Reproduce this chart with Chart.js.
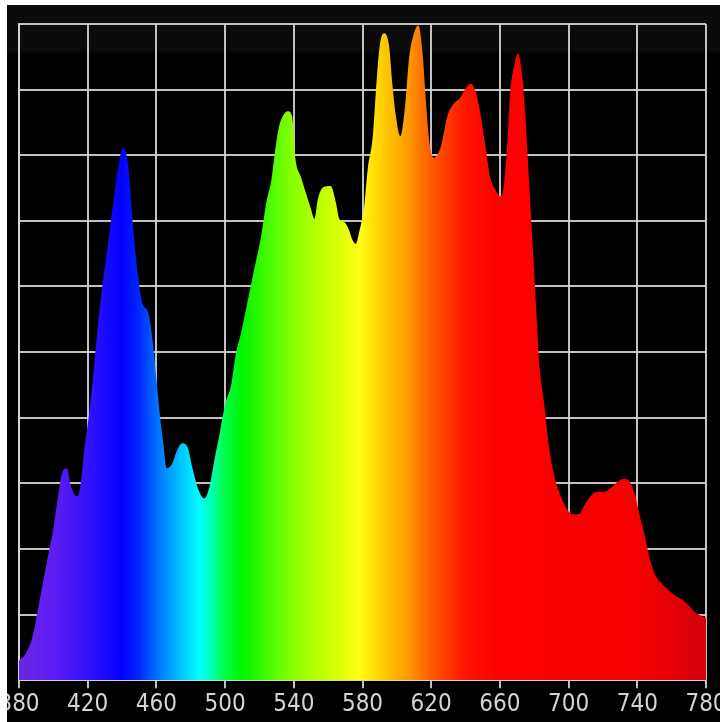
<!DOCTYPE html>
<html>
<head>
<meta charset="utf-8">
<script src="https://cdn.jsdelivr.net/npm/chart.js"></script>
<style>
  html, body { margin: 0; padding: 0; background: #fff; }
  #wrap {
    position: absolute; left: 7px; top: 5px; width: 713px; height: 717px;
    background: linear-gradient(#0b0b0b 0px, #0b0b0b 44px, #000 50px);
  }
</style>
</head>
<body>
<div id="wrap"><canvas id="spectrum"></canvas></div>
<script>
  'use strict';

  // Spectrum samples (nm, relative intensity 0..10)
  const wavelengths = [
    380, 384, 388, 392, 396, 400, 403, 405, 408, 410, 414, 416, 418, 421, 424, 427, 431, 435, 438, 440.5,
    443.5, 446, 449, 452, 455, 458, 460, 462, 464, 466, 469, 472, 475, 478, 481, 484.5, 488, 491, 494, 497,
    500, 503.5, 506.5, 509, 513, 517, 521, 524, 527, 529, 531, 533.5, 536.5, 539, 541, 544, 547, 550, 552, 554,
    557, 561.5, 564.5, 566.5, 569.5, 572, 574, 576, 578, 581, 583, 586, 588, 590, 592.5, 595.5, 597.5, 599.5, 602, 605,
    607, 610, 612.5, 615, 617, 619, 621.5, 625.5, 629.5, 633, 637, 640, 643, 646, 649, 651.5, 654.5, 657.5, 660.5, 662.5,
    664.5, 666, 668.5, 670.5, 673, 675, 677, 679, 681, 683, 686, 688, 690.5, 694.5, 698.5, 702, 706, 709, 713, 717,
    721, 725, 729, 732.5, 735.5, 738.5, 741.5, 744.5, 747, 750, 754, 758, 762, 766, 770, 773.5, 777.5, 780
  ];
  const intensity = [
    0.30, 0.41, 0.68, 1.22, 1.77, 2.31, 2.85, 3.15, 3.23, 2.98, 2.80, 3.00, 3.50, 4.10, 4.86, 5.68, 6.49, 7.30, 7.85, 8.12,
    7.85, 7.03, 6.22, 5.73, 5.62, 5.13, 4.59, 4.05, 3.61, 3.23, 3.29, 3.50, 3.61, 3.56, 3.23, 2.90, 2.77, 2.96, 3.39, 3.78,
    4.20, 4.50, 5.00, 5.26, 5.76, 6.27, 6.77, 7.28, 7.63, 8.04, 8.39, 8.59, 8.67, 8.59, 7.94, 7.68, 7.43, 7.18, 7.03, 7.33,
    7.51, 7.53, 7.28, 7.03, 6.98, 6.87, 6.72, 6.65, 6.82, 7.23, 7.78, 8.29, 9.05, 9.66, 9.86, 9.66, 9.05, 8.59, 8.29, 8.80,
    9.45, 9.86, 9.98, 9.55, 8.80, 8.19, 7.96, 8.12, 8.60, 8.78, 8.88, 9.02, 9.09, 8.96, 8.58, 8.15, 7.65, 7.47, 7.37, 7.59,
    8.27, 8.96, 9.39, 9.55, 9.20, 8.52, 7.59, 6.66, 5.73, 4.80, 4.18, 3.68, 3.25, 2.87, 2.63, 2.53, 2.53, 2.66, 2.81, 2.87,
    2.87, 2.94, 3.03, 3.07, 3.03, 2.84, 2.50, 2.19, 1.88, 1.63, 1.48, 1.38, 1.29, 1.23, 1.14, 1.04, 0.98, 0.95
  ];
  const xMin = 380, xMax = 780, xStep = 40;

  // Colour of the fill at a given wavelength
  const spectrumStops = [
    [380, 'rgb(104,40,228)'], [400, 'rgb(92,28,242)'], [420, 'rgb(52,18,252)'], [440, 'rgb(0,0,255)'],
    [450, 'rgb(0,40,255)'], [460, 'rgb(0,110,255)'], [475, 'rgb(0,200,255)'], [485, 'rgb(0,255,255)'],
    [492, 'rgb(0,255,180)'], [500, 'rgb(0,255,70)'], [510, 'rgb(0,245,0)'], [540, 'rgb(140,255,0)'],
    [560, 'rgb(200,255,0)'], [578, 'rgb(255,255,20)'], [590, 'rgb(255,210,0)'], [605, 'rgb(255,160,0)'],
    [620, 'rgb(255,90,0)'], [640, 'rgb(255,20,0)'], [660, 'rgb(255,0,0)'], [740, 'rgb(245,0,0)'],
    [780, 'rgb(212,0,12)']
  ];

  const spectrumFill = (context) => {
    const { ctx, chartArea } = context.chart;
    if (!chartArea) return 'red';
    const g = ctx.createLinearGradient(chartArea.left, 0, chartArea.right, 0);
    spectrumStops.forEach(([nm, col]) => g.addColorStop((nm - xMin) / (xMax - xMin), col));
    return g;
  };

  const gridColor = 'rgba(214,214,214,0.9)';

  new Chart(document.getElementById('spectrum'), {
    type: 'line',
    data: {
      datasets: [{
        data: wavelengths.map((w, i) => ({ x: w, y: intensity[i] })),
        borderWidth: 0,
        pointRadius: 0,
        fill: 'origin',
        backgroundColor: spectrumFill,
        cubicInterpolationMode: 'monotone'
      }]
    },
    options: {
      responsive: true,
      maintainAspectRatio: false,
      animation: false,
      layout: { padding: { left: 12, top: 19, right: 14, bottom: 1 } },
      plugins: { legend: { display: false }, tooltip: { enabled: false } },
      scales: {
        x: {
          type: 'linear',
          min: xMin,
          max: xMax,
          z: 1,
          // let the end labels run off the canvas like in the original
          afterFit: (scale) => { scale.paddingLeft = 0; scale.paddingRight = 0; },
          ticks: {
            stepSize: xStep,
            autoSkip: false,
            maxRotation: 0,
            padding: 2,
            color: '#d4d4d4',
            font: { family: '"Liberation Sans Narrow", "DejaVu Sans Condensed", sans-serif', size: 24 }
          },
          grid: { color: gridColor, lineWidth: 2, tickLength: 8, tickColor: gridColor },
          border: { color: gridColor, width: 2 }
        },
        y: {
          min: 0,
          max: 10,
          z: 1,
          ticks: { display: false, stepSize: 1 },
          grid: { color: gridColor, lineWidth: 2, drawTicks: false, tickLength: 0 },
          border: { color: gridColor, width: 2 }
        }
      }
    }
  });
</script>
</body>
</html>
